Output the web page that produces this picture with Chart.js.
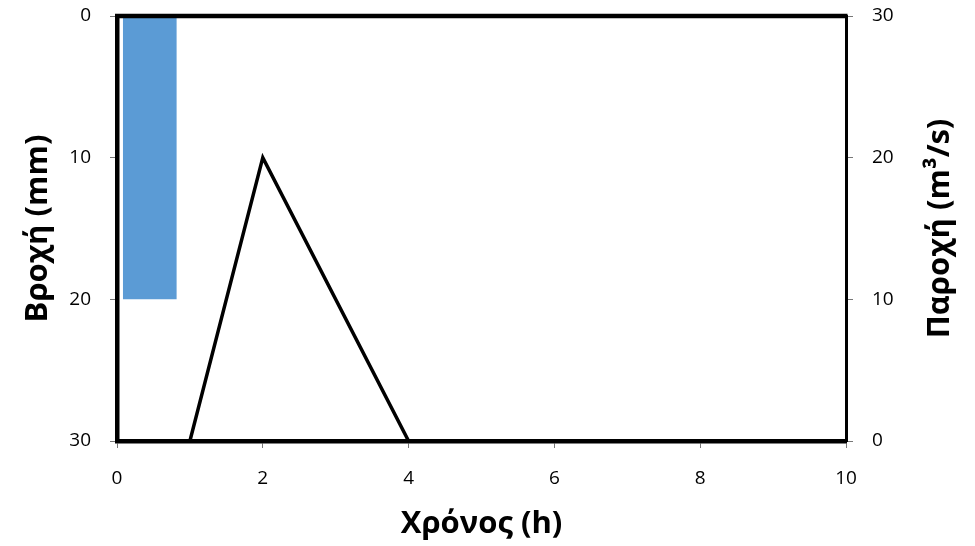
<!DOCTYPE html>
<html>
<head>
<meta charset="utf-8">
<script src="https://cdn.jsdelivr.net/npm/chart.js@4.4.1/dist/chart.umd.min.js"></script>
<style>
  html, body { margin: 0; padding: 0; background: #fff; }
  #wrap { width: 975px; height: 546px; }
</style>
</head>
<body>
<div id="wrap"><canvas id="chart"></canvas></div>
<script>
// Βροχή (υετογράφημα) - ράβδος από την αρχή έως το τέλος της βροχής
const rainX = [0.08, 0.82];
const rainY = [20, 20];

// Παροχή (υδρογράφημα)
const flowX = [0, 1, 2, 4, 10];
const flowY = [0, 0, 20, 0, 0];

const xTicks = [0, 2, 4, 6, 8, 10];
const yTicks = [0, 10, 20, 30];

const FONT = "'Open Sans', 'Liberation Sans', sans-serif";
const TITLE_SIZE = 31;

// πάνω πλαίσιο και τίτλος δεξιού άξονα (από κάτω προς τα πάνω)
const frameAndTitle = {
    id: 'frameAndTitle',
    afterDraw(chart) {
        const c = chart.ctx;
        const a = chart.chartArea;
        c.save();
        c.strokeStyle = '#000';
        c.lineWidth = 4.5;
        c.beginPath();
        c.moveTo(a.left - 2, a.top);
        c.lineTo(a.right + 1.5, a.top);
        c.stroke();

        c.translate(940, (a.top + a.bottom) / 2);
        c.rotate(-Math.PI / 2);
        c.font = "bold " + TITLE_SIZE + "px " + FONT;
        c.fillStyle = '#000';
        c.textAlign = 'center';
        c.textBaseline = 'middle';
        c.fillText('Παροχή (m³/s)', 0, 0);
        c.restore();
    }
};

// οι ετικέτες του άξονα y να μη σπρώχνουν την περιοχή του γραφήματος
function fitY(width) {
    return s => {
        s.width = width;
        s.paddingTop = 0;
        s.paddingBottom = 0;
    };
}

new Chart(document.getElementById('chart'), {
    type: 'line',
    data: {
        datasets: [
            {
                label: 'Βροχή',
                data: rainX.map((x, i) => ({ x: x, y: rainY[i] })),
                yAxisID: 'y',
                borderWidth: 0,
                borderColor: 'rgba(0,0,0,0)',
                backgroundColor: '#5b9bd5',
                fill: 'origin',
                pointRadius: 0,
                order: 2
            },
            {
                label: 'Παροχή',
                data: flowX.map((x, i) => ({ x: x, y: flowY[i] })),
                yAxisID: 'y2',
                borderColor: '#000',
                borderWidth: 3.5,
                fill: false,
                pointRadius: 0,
                tension: 0,
                order: 1
            }
        ]
    },
    options: {
        responsive: true,
        maintainAspectRatio: false,
        animation: false,
        layout: { padding: { top: 16, left: 0, right: 0, bottom: 0 } },
        plugins: { legend: { display: false }, tooltip: { enabled: false } },
        scales: {
            x: {
                type: 'linear',
                position: 'bottom',
                min: 0, max: 10,
                afterBuildTicks: s => { s.ticks = xTicks.map(v => ({ value: v })); },
                afterFit: s => { s.height = 105; s.paddingLeft = 0; s.paddingRight = 0; },
                ticks: { color: '#000', font: { family: FONT, size: 19 }, padding: 19 },
                grid: { drawOnChartArea: false, tickLength: 7, color: '#777', lineWidth: 1 },
                border: { display: true, color: '#000', width: 4.5 },
                title: {
                    display: true, text: 'Χρόνος (h)', color: '#000',
                    font: { family: FONT, size: TITLE_SIZE, weight: 'bold' },
                    padding: { top: 0, bottom: 3 }
                }
            },
            y: {
                type: 'linear',
                position: 'left',
                reverse: true,
                min: 0, max: 30,
                afterBuildTicks: s => { s.ticks = yTicks.map(v => ({ value: v })); },
                afterFit: fitY(117),
                ticks: { color: '#000', font: { family: FONT, size: 19 }, padding: 19 },
                grid: { drawOnChartArea: false, tickLength: 7, color: '#777', lineWidth: 1 },
                border: { display: true, color: '#000', width: 4.5 },
                title: {
                    display: true, text: 'Βροχή (mm)', color: '#000',
                    font: { family: FONT, size: TITLE_SIZE, weight: 'bold' },
                    padding: { top: 20, bottom: 0 }
                }
            },
            y2: {
                type: 'linear',
                position: 'right',
                min: 0, max: 30,
                afterBuildTicks: s => { s.ticks = yTicks.map(v => ({ value: v })); },
                afterFit: fitY(129),
                ticks: { color: '#000', font: { family: FONT, size: 19 }, padding: 19 },
                grid: { drawOnChartArea: false, tickLength: 7, color: '#777', lineWidth: 1 },
                border: { display: true, color: '#000', width: 3 }
            }
        }
    },
    plugins: [frameAndTitle]
});
</script>
</body>
</html>
